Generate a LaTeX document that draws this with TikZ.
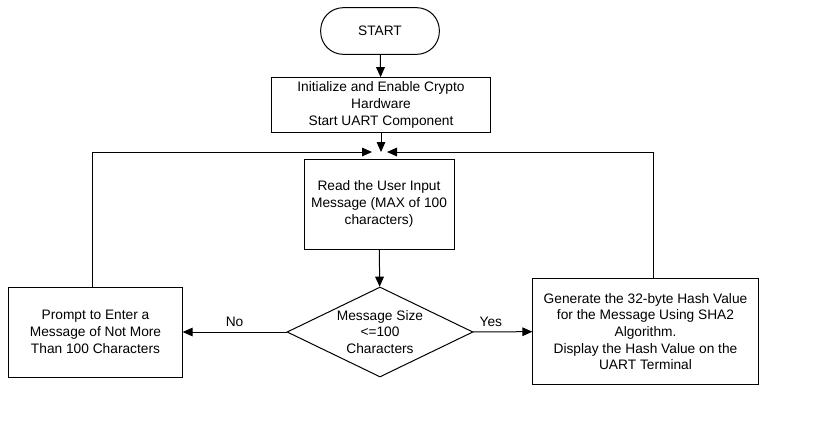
\documentclass[tikz,border=0pt]{standalone}
\usepackage{fontspec}
\setmainfont{Liberation Sans}
\usetikzlibrary{shapes.geometric, arrows.meta}

\begin{document}
\begin{tikzpicture}[x=0.75pt, y=-0.75pt, line width=0.75pt,
    every node/.style={font=\fontsize{10.3}{12.5}\selectfont},
    box/.style={draw, rectangle, align=center, inner sep=2pt},
    term/.style={draw, rectangle, rounded corners=17pt, align=center},
    decision/.style={draw, diamond, aspect=2, align=center, inner sep=0pt},
    arr/.style={-{Triangle[length=7.5pt, width=6.5pt]}}]
            \useasboundingbox (0,0) rectangle (817,436);
            \node[term, minimum width=89pt, minimum height=35pt] (start) at (380,31) {START};
            \node[box, minimum width=164pt, minimum height=41pt] (init) at (381,105) {Initialize and Enable Crypto\\Hardware\\Start UART Component};
            \node[box, minimum width=112.5pt, minimum height=67.5pt] (read) at (379,204) {Read the User Input\\Message (MAX of 100\\characters)};
            \node[decision, minimum width=139.5pt, minimum height=67.5pt] (size) at (380,332) {Message Size\\<=100\\Characters};
            \node[box, minimum width=130pt, minimum height=67.5pt] (prompt) at (95.5,332) {Prompt to Enter a\\Message of Not More\\Than 100 Characters};
            \node[box, minimum width=169pt, minimum height=79pt] (hash) at (645.5,331.5) {Generate the 32-byte Hash Value\\for the Message Using SHA2\\Algorithm.\\Display the Hash Value on the\\UART Terminal};
            \coordinate (mergeL) at (372,152); \coordinate (mergeR) at (387,152);
            \coordinate (topL) at (92,152); \coordinate (topR) at (653,152);
            \draw[arr] (start) -- (init);
            \draw[arr] (init.south) -- (init.south |- mergeL);
            \draw[arr] (read) -- (size);
            \draw[arr] (size) -- (prompt) node[midway, above]{No};
            \draw[arr] (size) -- (hash) node[pos=0.3, above]{Yes};
            \draw[arr] (prompt.north -| topL) -- (topL) -- (mergeL);
            \draw[arr] (hash.north -| topR) -- (topR) -- (mergeR);
        \end{tikzpicture}
\end{document}
